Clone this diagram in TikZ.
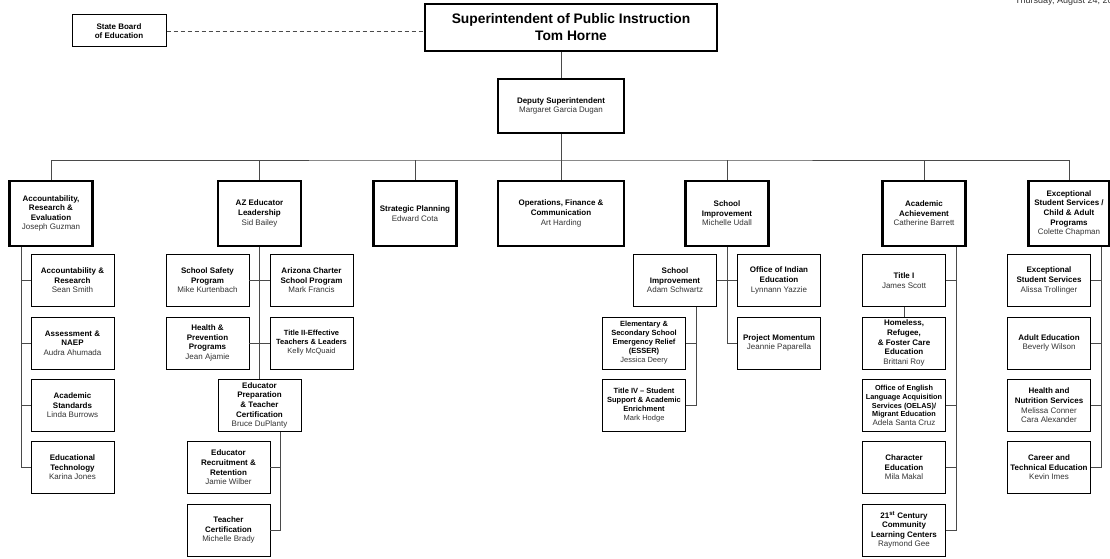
\documentclass[tikz,border=0pt]{standalone}
\usepackage{fontspec}
\setmainfont{Liberation Sans}
\definecolor{namegray}{HTML}{333333}
\definecolor{linegray}{HTML}{4A4A4A}
\newcommand\nm[1]{{\mdseries\color{namegray}#1}}
\tikzset{
  orgtxt/.style={align=center, inner sep=0pt, text=black,
    font=\bfseries\fontsize{8}{9.6}\selectfont},
  small/.style={font=\bfseries\fontsize{7.5}{9}\selectfont},
  tiny/.style={font=\bfseries\fontsize{7.3}{8.7}\selectfont},
  subbox/.style={orgtxt, draw=black, line width=0.8pt,
    minimum width=83pt, minimum height=52pt},
  headbox/.style={orgtxt, draw=black, line width=2.4pt,
    minimum width=83pt, minimum height=65pt},
  conn/.style={draw=linegray, line width=0.9pt}
}
\begin{document}
\begin{tikzpicture}[x=1pt,y=-1pt]
\useasboundingbox (0,0) rectangle (1110,559);
\clip (0,0) rectangle (1110,559);
\fill[white] (0,0) rectangle (1110,559);

% date stamp in the corner
\node[anchor=base west, inner sep=0pt, font=\fontsize{9}{10}\selectfont, text=namegray]
  (date) at (1015,3.5) {Thursday, August 24, 2023};

% leadership
\node[orgtxt, draw=black, line width=1pt, minimum width=94pt, minimum height=32pt]
  (sbe) at (119,31) {State Board\\of Education};
\node[orgtxt, draw=black, line width=2.4pt, minimum width=292pt, minimum height=47pt,
  font=\bfseries\fontsize{13.8}{17}\selectfont]
  (sup) at (571,27.5) {Superintendent of Public Instruction\\Tom Horne};
\node[orgtxt, draw=black, line width=2.4pt, minimum width=126pt, minimum height=54pt]
  (dep) at (561,106) {Deputy Superintendent\\\nm{Margaret Garcia Dugan}};

% divisions
\node[headbox] (acc) at (51,213.5) {Accountability,\\Research \&\\Evaluation\\\nm{Joseph Guzman}};
\node[headbox] (aze) at (259.5,213.5) {AZ Educator\\Leadership\\\nm{Sid Bailey}};
\node[headbox] (stp) at (415,213.5) {Strategic Planning\\\nm{Edward Cota}};
\node[headbox, minimum width=126pt] (ops) at (561,213.5) {Operations, Finance \&\\Communication\\\nm{Art Harding}};
\node[headbox] (sim) at (727,213.5) {School\\Improvement\\\nm{Michelle Udall}};
\node[headbox] (aca) at (924,213.5) {Academic\\Achievement\\\nm{Catherine Barrett}};
\node[headbox, minimum width=81pt] (exc) at (1069,213.5) {Exceptional\\Student Services /\\Child \& Adult\\Programs\\\nm{Colette Chapman}};

% accountability units
\node[subbox] (acr) at (72.5,280.5) {Accountability \&\\Research\\\nm{Sean Smith}};
\node[subbox] (asn) at (72.5,343) {Assessment \&\\NAEP\\\nm{Audra Ahumada}};
\node[subbox] (ast) at (72.5,405.5) {Academic\\Standards\\\nm{Linda Burrows}};
\node[subbox] (etc) at (72.5,467.5) {Educational\\Technology\\\nm{Karina Jones}};

% educator leadership units
\node[subbox] (ssp) at (207.5,280.5) {School Safety\\Program\\\nm{Mike Kurtenbach}};
\node[subbox] (acs) at (311.5,280.5) {Arizona Charter\\School Program\\\nm{Mark Francis}};
\node[subbox] (hpp) at (207.5,343) {Health \&\\Prevention\\Programs\\\nm{Jean Ajamie}};
\node[subbox, small] (tte) at (311.5,343) {Title II-Effective\\Teachers \& Leaders\\\nm{Kelly McQuaid}};
\node[subbox] (edp) at (259.5,405.5) {Educator\\Preparation\\\& Teacher\\Certification\\\nm{Bruce DuPlanty}};
\node[subbox] (err) at (228.5,467.5) {Educator\\Recruitment \&\\Retention\\\nm{Jamie Wilber}};
\node[subbox] (tcr) at (228.5,530) {Teacher\\Certification\\\nm{Michelle Brady}};

% school improvement units
\node[subbox] (ads) at (675,280.5) {School\\Improvement\\\nm{Adam Schwartz}};
\node[subbox] (oie) at (779,280.5) {Office of Indian\\Education\\\nm{Lynnann Yazzie}};
\node[subbox] (pmo) at (779,343) {Project Momentum\\\nm{Jeannie Paparella}};
\node[subbox, small] (esr) at (644,343) {Elementary \&\\Secondary School\\Emergency Relief\\(ESSER)\\\nm{Jessica Deery}};
\node[subbox, small] (tfo) at (644,405.5) {Title IV -- Student\\Support \& Academic\\Enrichment\\\nm{Mark Hodge}};

% academic achievement units
\node[subbox] (ti1) at (904,280.5) {Title I\\\nm{James Scott}};
\node[subbox] (hrf) at (904,343) {Homeless,\\Refugee,\\\& Foster Care\\Education\\\nm{Brittani Roy}};
\node[subbox, tiny] (oel) at (904,405.5) {Office of English\\Language Acquisition\\Services (OELAS)/\\Migrant Education\\{\fontsize{8}{8.7}\selectfont\nm{Adela Santa Cruz}}};
\node[subbox] (chr) at (904,467.5) {Character\\Education\\\nm{Mila Makal}};
\node[subbox] (clc) at (904,530) {21\textsuperscript{st} Century\\Community\\Learning Centers\\\nm{Raymond Gee}};

% exceptional student services units
\node[subbox] (ess) at (1049,280.5) {Exceptional\\Student Services\\\nm{Alissa Trollinger}};
\node[subbox] (ade) at (1049,343) {Adult Education\\\nm{Beverly Wilson}};
\node[subbox] (hns) at (1049,405.5) {Health and\\Nutrition Services\\\nm{Melissa Conner}\\\nm{Cara Alexander}};
\node[subbox] (cte) at (1049,467.5) {Career and\\Technical Education\\\nm{Kevin Imes}};

% reporting lines at the top
\draw[conn, dashed, dash pattern=on 4pt off 3pt] (sbe.east) -- (sbe.east -| sup.west);
\draw[conn] (dep.north) -- (dep.north |- sup.south);
\draw[conn] (dep.south) -- (ops.north);
\coordinate (bus) at (561,160);
\draw[conn] (acc.north) |- (bus) -| (exc.north);
\foreach \n in {aze,stp,sim,aca} \draw[conn] (\n.north) -- (\n.north |- bus);

% accountability trunk
\path (acc.south) ++(-30,0) coordinate (accT);
\draw[conn] (accT) |- (etc.west);
\foreach \n in {acr,asn,ast} \draw[conn] (\n.west) -- (\n.west -| accT);

% educator leadership trunk
\draw[conn] (aze.south) -- (edp.north);
\draw[conn] (ssp.east) -- (acs.west);
\draw[conn] (hpp.east) -- (tte.west);
\path (edp.south) ++(20.5,0) coordinate (edpT);
\draw[conn] (edpT) |- (tcr.east);
\draw[conn] (err.east) -- (err.east -| edpT);

% school improvement trunk
\draw[conn] (sim.south) |- (pmo.west);
\draw[conn] (ads.east) -- (oie.west);
\path (ads.south) ++(21,0) coordinate (adsT);
\draw[conn] (adsT) |- (tfo.east);
\draw[conn] (esr.east) -- (esr.east -| adsT);

% academic achievement trunk
\path (aca.south) ++(32,0) coordinate (acaT);
\draw[conn] (acaT) |- (clc.east);
\foreach \n in {ti1,oel,chr} \draw[conn] (\n.east) -- (\n.east -| acaT);
\draw[conn] (ti1.south) -- (hrf.north);

% exceptional student services trunk
\path (exc.south) ++(32,0) coordinate (excT);
\draw[conn] (excT) |- (cte.east);
\foreach \n in {ess,ade,hns} \draw[conn] (\n.east) -- (\n.east -| excT);
\end{tikzpicture}
\end{document}
